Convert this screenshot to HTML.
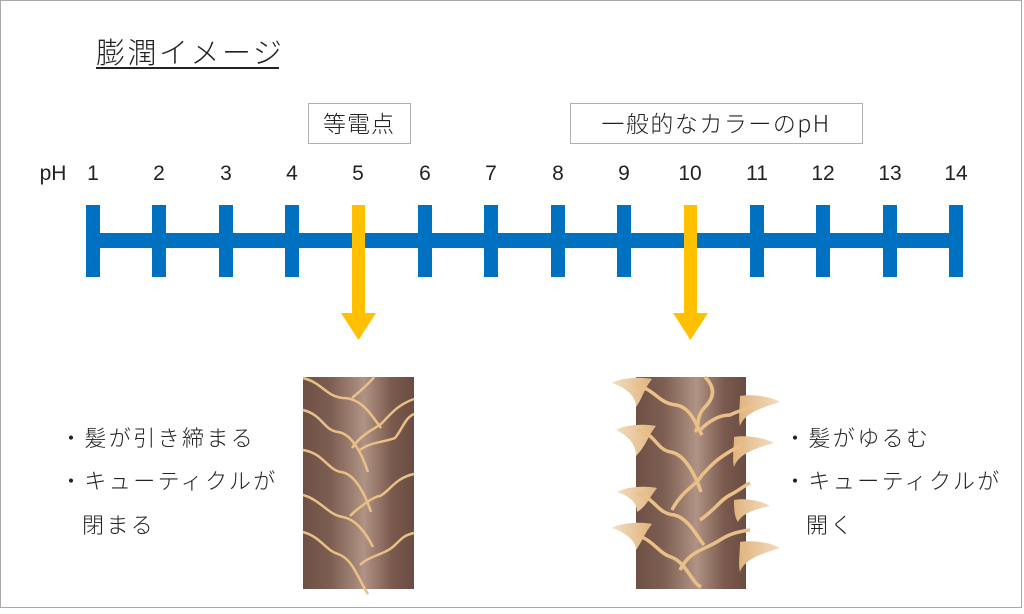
<!DOCTYPE html>
<html><head><meta charset="utf-8"><style>
html,body{margin:0;padding:0;background:#fff}
svg text{font-family:"Liberation Sans","Noto Sans CJK JP",sans-serif;fill:#222}
.j{font-family:"Noto Sans CJK JP",sans-serif;font-weight:300}
</style></head><body>
<svg width="1024" height="609" viewBox="0 0 1024 609" xmlns="http://www.w3.org/2000/svg">
<defs>
<linearGradient id="hg" x1="0" x2="1" y1="0" y2="0">
<stop offset="0" stop-color="#6e5045"/><stop offset="0.25" stop-color="#7d5e52"/>
<stop offset="0.55" stop-color="#b09384"/><stop offset="0.8" stop-color="#7a5a4e"/><stop offset="1" stop-color="#6a4c42"/>
</linearGradient>
<linearGradient id="fl" x1="0" x2="1"><stop offset="0" stop-color="#f3dcc0"/><stop offset="1" stop-color="#e0b47e"/></linearGradient>
<linearGradient id="fr" x1="0" x2="1"><stop offset="0" stop-color="#e0b47e"/><stop offset="1" stop-color="#f3dcc0"/></linearGradient>
</defs>
<rect x="0.5" y="0.5" width="1021" height="607" fill="#fff" stroke="#aaa"/>
<text x="96" y="63" class="j" font-size="29" letter-spacing="2.5">膨潤イメージ</text>
<rect x="96" y="67" width="183" height="2" fill="#222"/>
<rect x="308.5" y="103.5" width="102" height="40" fill="#fff" stroke="#b0b0b0"/>
<text x="359" y="132" class="j" font-size="23" text-anchor="middle" letter-spacing="1">等電点</text>
<rect x="570.5" y="103.5" width="292" height="40" fill="#fff" stroke="#b0b0b0"/>
<text x="716" y="132" class="j" font-size="23" text-anchor="middle" letter-spacing="1.5">一般的なカラーのpH</text>
<g font-size="21" text-anchor="middle" class="j">
<text x="53" y="180">pH</text>
<text x="93" y="180">1</text><text x="159" y="180">2</text><text x="226" y="180">3</text><text x="292" y="180">4</text>
<text x="358" y="180">5</text><text x="425" y="180">6</text><text x="491" y="180">7</text><text x="558" y="180">8</text>
<text x="624" y="180">9</text><text x="690" y="180">10</text><text x="757" y="180">11</text><text x="823" y="180">12</text>
<text x="890" y="180">13</text><text x="956" y="180">14</text>
</g>
<g fill="#0070c0">
<rect x="86" y="233" width="877" height="15"/>
<rect x="86" y="205" width="14" height="72"/><rect x="152" y="205" width="14" height="72"/><rect x="219" y="205" width="14" height="72"/>
<rect x="285" y="205" width="14" height="72"/><rect x="418" y="205" width="14" height="72"/><rect x="484" y="205" width="14" height="72"/>
<rect x="551" y="205" width="14" height="72"/><rect x="617" y="205" width="14" height="72"/><rect x="750" y="205" width="14" height="72"/>
<rect x="816" y="205" width="14" height="72"/><rect x="883" y="205" width="14" height="72"/><rect x="949" y="205" width="14" height="72"/>
</g>
<g fill="#ffc000">
<path d="M352 205h13v108h11l-17.5 27-17.5-27h11z"/>
<path d="M684 205h13v108h11l-17.5 27-17.5-27h11z"/>
</g>
<!-- left hair -->
<g>
<rect x="303" y="377" width="111" height="212" fill="url(#hg)"/>
<g fill="none" stroke="#e8c088" stroke-width="2.5">
<path d="M303 378c20 5 22 18 40 20 20 0 30 20 38 30"/>
<path d="M352 398c10-8 20-18 22-21"/>
<path d="M303 410c20 5 20 20 35 22 15 2 25 25 30 40"/>
<path d="M352 448c10-15 25-20 30-25 8-8 15-18 32-24"/>
<path d="M303 450c20 3 25 20 38 22 15 2 25 25 30 40"/>
<path d="M360 450c10-8 25-8 35-12 8-10 10-20 19-24"/>
<path d="M303 495c18 5 25 20 40 22 15 3 25 20 30 30"/>
<path d="M350 516c10-10 25-20 30-20 10-5 15-18 34-22"/>
<path d="M303 532c18 5 22 18 35 22 15 5 20 25 30 40"/>
<path d="M360 565c10-10 25-10 35-20 8-8 10-10 19-12"/>
</g>
</g>
<!-- right hair -->
<g>
<rect x="636" y="377" width="110" height="212" fill="url(#hg)"/>
<g fill="url(#fl)">
<path d="M612 383c10-6 30-6 40-4-8 10-10 20-16 28 0-12-12-20-24-24z"/>
<path d="M616 430c10-6 30-6 40-4-8 10-10 20-20 30 0-12-8-20-20-26z"/>
<path d="M617 492c10-6 30-6 40-4-8 10-10 18-20 24 0-10-8-16-20-20z"/>
<path d="M612 528c10-6 30-6 40-4-8 10-10 18-16 26 0-10-12-18-24-22z"/>
</g>
<g fill="url(#fr)">
<path d="M780 402c-10-6-30-8-40-6 0 10-2 22 0 30 4-12 20-18 40-24z"/>
<path d="M774 443c-10-6-30-8-40-6 0 10-2 22 0 30 4-12 18-18 40-24z"/>
<path d="M770 506c-10-6-26-8-36-6 0 8 0 16 4 22 4-8 14-12 32-16z"/>
<path d="M780 548c-10-6-30-8-40-6 0 10-2 22 0 30 4-12 20-18 40-24z"/>
</g>
<g fill="none" stroke="#e8c088" stroke-width="3.5">
<path d="M636 385c20 5 22 18 40 20 15 2 20 20 26 30"/>
<path d="M705 377c10 10 10 20 0 30-10 10-5 20-10 25"/>
<path d="M700 430c10-10 20-15 30-15 10-5 15-5 25-10"/>
<path d="M636 430c20 3 20 20 35 22 15 3 25 25 30 40"/>
<path d="M672 510c10-20 25-25 30-35 8-8 15-18 40-30"/>
<path d="M636 493c20 5 20 20 38 22 15 3 25 25 30 30"/>
<path d="M700 520c15-10 20-20 30-25 10-5 15-10 20-12"/>
<path d="M636 535c18 5 22 18 35 22 15 5 20 25 30 30"/>
<path d="M680 570c10-20 25-20 40-30 8-5 15-8 30-10"/>
</g>
</g>
<g class="j" font-size="22" letter-spacing="2.4">
<text x="60" y="446">・髪が引き締まる</text>
<text x="60" y="489">・キューティクルが</text>
<text x="82" y="533">閉まる</text>
<text x="784" y="446">・髪がゆるむ</text>
<text x="784" y="489">・キューティクルが</text>
<text x="806" y="533">開く</text>
</g>
</svg>
</body></html>
